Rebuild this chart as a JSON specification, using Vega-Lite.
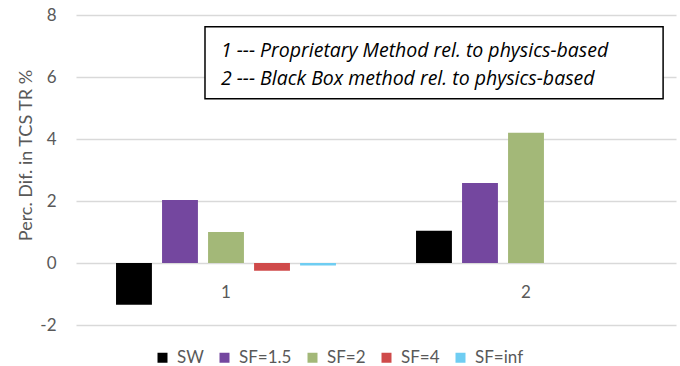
{
  "$schema": "https://vega.github.io/schema/vega-lite/v6.json",
  "autosize": "none",
  "width": 600,
  "height": 310,
  "padding": {"left": 76, "top": 15, "right": 4, "bottom": 41},
  "background": "white",
  "config": {
    "view": {"stroke": null},
    "font": "Lato",
    "axis": {"labelFont": "Lato", "titleFont": "Lato", "labelColor": "#595959", "titleColor": "#595959"},
    "legend": {"labelFont": "Lato"}
  },
  "layer": [
    {
      "data": {
        "values": [
          {"group": "1", "series": "SW", "value": -1.35},
          {"group": "1", "series": "SF=1.5", "value": 2.03},
          {"group": "1", "series": "SF=2", "value": 1.0},
          {"group": "1", "series": "SF=4", "value": -0.25},
          {"group": "1", "series": "SF=inf", "value": -0.08},
          {"group": "2", "series": "SW", "value": 1.04},
          {"group": "2", "series": "SF=1.5", "value": 2.58},
          {"group": "2", "series": "SF=2", "value": 4.2},
          {"group": "2", "series": "SF=4", "value": 0.0},
          {"group": "2", "series": "SF=inf", "value": 0.0}
        ]
      },
      "mark": {"type": "bar"},
      "encoding": {
        "x": {
          "field": "group", "type": "nominal",
          "scale": {"paddingInner": 0, "paddingOuter": 0},
          "axis": {"title": null, "labelAngle": 0, "domain": false, "ticks": false, "grid": false, "offset": -62, "labelPadding": 21, "labelFontSize": 17, "labelColor": "#595959"}
        },
        "xOffset": {
          "field": "series", "type": "nominal",
          "sort": ["SW", "SF=1.5", "SF=2", "SF=4", "SF=inf"],
          "scale": {"paddingInner": 0.22, "paddingOuter": 0.87}
        },
        "y": {
          "field": "value", "type": "quantitative",
          "scale": {"domain": [-2, 8], "nice": false, "zero": false},
          "axis": {
            "values": [-2, 0, 2, 4, 6, 8],
            "labelExpr": "'' + datum.value",
            "title": "Perc. Dif. in TCS TR %",
            "titleFontSize": 18, "titleFontWeight": "normal",
            "titlePadding": 4, "titleY": 140,
            "domain": false, "ticks": false,
            "gridColor": "#d9d9d9", "gridWidth": 1.3,
            "labelFontSize": 17, "labelPadding": 20
          }
        },
        "color": {
          "field": "series", "type": "nominal",
          "scale": {
            "domain": ["SW", "SF=1.5", "SF=2", "SF=4", "SF=inf"],
            "range": ["#000000", "#74479f", "#a3b878", "#cf4a4a", "#6fcdf2"]
          },
          "legend": {
            "title": null, "orient": "none", "direction": "horizontal",
            "legendX": 78, "legendY": 334,
            "symbolType": "square", "symbolSize": 100, "symbolStrokeWidth": 0,
            "labelFontSize": 17, "labelColor": "#595959", "labelOffset": 6,
            "columnPadding": 12
          }
        }
      }
    },
    {
      "data": {"values": [{"box": "note"}]},
      "mark": {"type": "rect", "fill": "white", "stroke": "black", "strokeWidth": 1.5},
      "encoding": {
        "x": {"datum": 0.43, "type": "quantitative", "scale": {"domain": [0, 2]}, "axis": null},
        "x2": {"datum": 1.957},
        "y": {"datum": 7.62, "type": "quantitative"},
        "y2": {"datum": 5.3}
      }
    },
    {
      "data": {
        "values": [
          {"label": "1 --- Proprietary Method rel. to physics-based", "pos": 6.65},
          {"label": "2 --- Black Box method rel. to physics-based", "pos": 5.75}
        ]
      },
      "mark": {"type": "text", "align": "left", "baseline": "alphabetic", "fontStyle": "italic", "fontSize": 19.5, "font": "Open Sans", "color": "black"},
      "encoding": {
        "x": {"datum": 0.483, "type": "quantitative", "scale": {"domain": [0, 2]}, "axis": null},
        "y": {"field": "pos", "type": "quantitative"},
        "text": {"field": "label"}
      }
    }
  ],
  "resolve": {"scale": {"x": "independent"}}
}
